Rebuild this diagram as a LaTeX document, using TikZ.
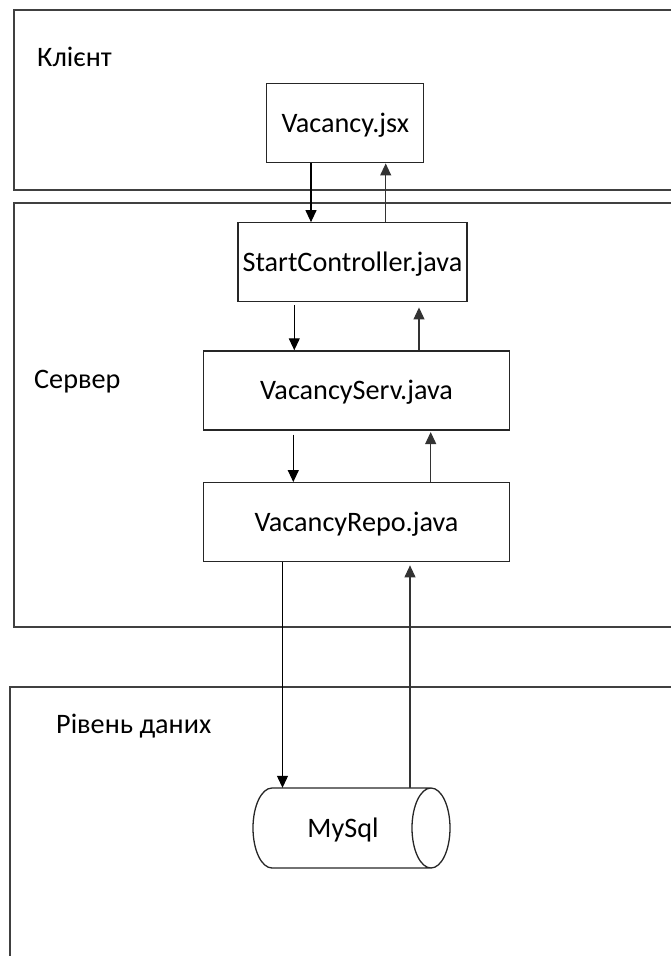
\documentclass[tikz,border=0pt]{standalone}
\usepackage{fontspec}
\setmainfont{Carlito}
\usetikzlibrary{arrows.meta,calc}

\begin{document}
\begin{tikzpicture}[x=1pt,y=-1pt,
  layer/.style={draw=black!75,line width=1.6pt},
  comp/.style={draw=black!85,line width=1.3pt,rectangle,inner sep=0pt,
    text height=18pt,text depth=0pt,align=center},
  layerlabel/.style={inner sep=0pt,anchor=base west},
  flow/.style={draw=black,line width=1.1pt,-{Triangle[width=11pt,length=12pt]}},
  back/.style={draw=black!80,line width=1.1pt,-{Triangle[width=11pt,length=12pt]}}]
\fontsize{28.2}{34}\selectfont

\useasboundingbox (0,0) rectangle (671,956);
\clip (0,0) rectangle (671,956);

% tier frames (open beyond the page edge)
\draw[layer] (14,10) rectangle (700,190);
\draw[layer] (14,203) rectangle (700,627);
\draw[layer] (10,687) rectangle (700,990);

% tier titles
\node[layerlabel] (tclient) at (37,66.5) {Клієнт};
\node[layerlabel] (tserver) at (34,388) {Сервер};
\node[layerlabel] (tdata) at (56,733) {Рівень даних};

% components
\node[comp,minimum width=157pt,minimum height=79pt] (jsx) at (345.3,123.3) {Vacancy.jsx};
\node[comp,minimum width=229pt,minimum height=79pt] (ctrl) at (352.5,262.3) {StartController.java};
\node[comp,minimum width=306pt,minimum height=79pt] (serv) at (356.5,390.4) {VacancyServ.java};
\node[comp,minimum width=306pt,minimum height=79pt] (repo) at (356.5,522.2) {VacancyRepo.java};

% database cylinder
\node[inner sep=0pt,minimum width=178pt,minimum height=80pt,text height=18pt,text depth=0pt] (db) at (343,828) {MySql};
\draw[draw=black!85,line width=1.3pt]
  (272,788) -- (431,788)
  (272,868) -- (431,868)
  (272,788) arc[start angle=270,end angle=90,x radius=19,y radius=40]
  (431,828) ellipse[x radius=19,y radius=40];

% lanes of the request/response connectors
\coordinate (d1) at (311,0);
\coordinate (u1) at (385.7,0);
\coordinate (d2) at (294.3,0);
\coordinate (u2) at (419,0);
\coordinate (d3) at (293.3,0);
\coordinate (u3) at (430.7,0);
\coordinate (d4) at (282.5,0);
\coordinate (u4) at (410,0);

\draw[flow] (jsx.south -| d1) -- (ctrl.north -| d1);
\draw[back] (ctrl.north -| u1) -- (jsx.south -| u1);

\draw[flow] ($(ctrl.south -| d2)+(0,3)$) -- (serv.north -| d2);
\draw[back] (serv.north -| u2) -- ($(ctrl.south -| u2)+(0,5)$);

\draw[flow] ($(serv.south -| d3)+(0,4)$) -- (repo.north -| d3);
\draw[back] (repo.north -| u3) -- ($(serv.south -| u3)+(0,1.5)$);

\draw[flow] (repo.south -| d4) -- (db.north -| d4);
\draw[back] (db.north -| u4) -- ($(repo.south -| u4)+(0,3)$);
\end{tikzpicture}
\end{document}
